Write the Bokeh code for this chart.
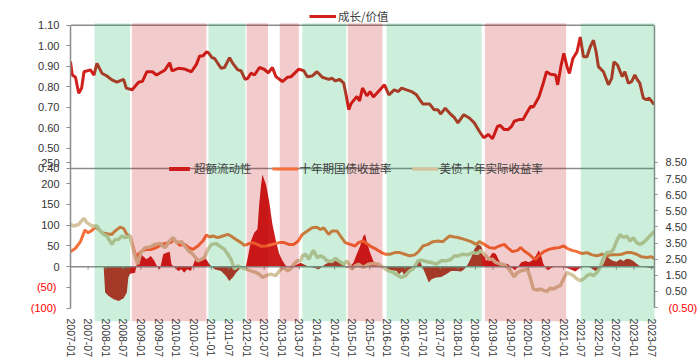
from bokeh.plotting import figure
from bokeh.models import (Range1d, LinearAxis, FixedTicker, NumeralTickFormatter, Span,
                          BoxAnnotation, Legend, LegendItem)
from bokeh.embed import file_html
from bokeh.resources import INLINE

# ---------------- data (x = months since 2007-01) ----------------
X_TICK_MONTHS = list(range(0, 199, 6))
X_TICK_LABELS = ["2007-01", "2007-07", "2008-01", "2008-07", "2009-01", "2009-07", "2010-01", "2010-07",
                 "2011-01", "2011-07", "2012-01", "2012-07", "2013-01", "2013-07", "2014-01", "2014-07",
                 "2015-01", "2015-07", "2016-01", "2016-07", "2017-01", "2017-07", "2018-01", "2018-07",
                 "2019-01", "2019-07", "2020-01", "2020-07", "2021-01", "2021-07", "2022-01", "2022-07",
                 "2023-01", "2023-07"]

# 成长/价值
GV_MONTH = [0, 0.6, 1.7, 2.8, 3.8, 4.6, 6.8, 8.0, 9.0, 10.7, 12.4, 14.1, 15.8, 18.1, 19.0, 21.0, 23.2, 24.5,
            26.0, 27.9, 29.3, 32.2, 33.8, 34.6, 36.7, 38.9, 41.2, 42.9, 44.0, 45.1, 46.3, 47.0, 48.2, 49.1,
            51.3, 52.5, 54.2, 55.3, 57.0, 58.1, 59.5, 60.4, 61.5, 62.7, 64.4, 66.1, 67.4, 68.8, 70.0, 72.2,
            73.9, 75.2, 77.8, 79.5, 80.7, 82.3, 84.0, 85.8, 88.0, 89.1, 90.3, 91.7, 93.1, 94.0, 94.8, 95.6,
            96.5, 97.6, 98.5, 99.5, 101.0, 102.1, 103.2, 104.9, 107.0, 108.5, 110.3, 111.7, 112.8, 114.5,
            116.2, 117.9, 119.0, 120.1, 122.4, 123.9, 125.2, 126.1, 127.7, 129.7, 130.9, 132.0, 134.0,
            135.9, 137.6, 139.3, 140.8, 142.4, 143.8, 145.5, 146.4, 147.8, 149.1, 150.3, 151.2, 152.9,
            154.2, 155.1, 156.8, 157.7, 159.6, 161.1, 162.2, 163.6, 165.3, 166.0, 167.2, 168.1, 169.2,
            170.0, 171.2, 172.6, 173.7, 174.8, 176.0, 177.1, 178.2, 179.1, 179.9, 181.6, 183.3, 184.4,
            185.2, 186.4, 188.0, 188.9, 190.1, 191.2, 192.3, 193.2, 194.0, 195.2, 196.3, 197.2, 198.9]
GV_VALUE = [0.922, 0.857, 0.846, 0.768, 0.793, 0.873, 0.882, 0.857, 0.914, 0.866, 0.852, 0.833, 0.822,
            0.836, 0.793, 0.785, 0.822, 0.826, 0.873, 0.873, 0.857, 0.882, 0.917, 0.877, 0.890, 0.886,
            0.873, 0.909, 0.950, 0.950, 0.970, 0.966, 0.942, 0.938, 0.890, 0.894, 0.942, 0.914, 0.882,
            0.878, 0.836, 0.841, 0.866, 0.857, 0.894, 0.884, 0.868, 0.894, 0.849, 0.825, 0.846, 0.849,
            0.886, 0.878, 0.849, 0.852, 0.873, 0.846, 0.836, 0.841, 0.828, 0.836, 0.817, 0.752, 0.688,
            0.717, 0.733, 0.752, 0.730, 0.793, 0.755, 0.776, 0.749, 0.776, 0.809, 0.760, 0.784, 0.776,
            0.793, 0.784, 0.776, 0.760, 0.736, 0.715, 0.715, 0.687, 0.687, 0.666, 0.695, 0.663, 0.647,
            0.623, 0.663, 0.647, 0.623, 0.582, 0.550, 0.566, 0.545, 0.606, 0.611, 0.590, 0.590, 0.606,
            0.631, 0.639, 0.639, 0.663, 0.704, 0.700, 0.749, 0.817, 0.873, 0.861, 0.857, 0.809, 0.906,
            0.963, 0.898, 0.865, 0.938, 0.971, 1.043, 0.946, 0.946, 0.995, 1.027, 0.971, 0.898, 0.873,
            0.809, 0.841, 0.922, 0.906, 0.849, 0.873, 0.817, 0.825, 0.857, 0.833, 0.817, 0.744, 0.736,
            0.744, 0.712]

# 超额流动性 (left axis)
EXCESS_MONTH = [0, 11.3, 11.8, 13.0, 14.7, 16.4, 18.1, 19.2, 19.7, 20.3, 22.0, 22.6, 24.0, 25.9, 27.4, 28.6,
                29.7, 30.5, 31.6, 32.7, 33.8, 34.4, 35.5, 36.7, 37.8, 38.7, 39.8, 41.0, 42.1, 42.9, 44.0,
                45.1, 46.3, 47.0, 47.9, 49.1, 51.3, 53.0, 54.1, 55.3, 56.4, 57.5, 58.7, 59.8, 60.4, 61.5,
                62.6, 63.7, 64.3, 64.9, 65.4, 66.6, 67.7, 68.8, 70.0, 71.1, 72.2, 73.3, 74.4, 75.6, 78.4,
                80.1, 81.8, 83.5, 84.6, 86.8, 88.6, 90.3, 92.0, 93.1, 94.2, 95.3, 96.4, 97.6, 98.7, 99.8,
                100.4, 100.9, 102.1, 103.2, 104.3, 105.4, 106.2, 107.7, 109.4, 111.1, 111.9, 113.0, 114.2,
                115.6, 117.3, 118.8, 119.8, 121.2, 122.1, 123.0, 124.6, 126.3, 128.0, 129.7, 131.4, 133.1,
                134.2, 135.4, 136.5, 137.6, 138.8, 139.9, 140.8, 141.6, 142.7, 143.8, 144.9, 146.1, 147.2,
                148.9, 150.3, 151.4, 152.5, 153.6, 155.1, 156.2, 157.4, 158.5, 159.6, 160.4, 161.1, 161.9,
                162.7, 164.1, 166.1, 168.1, 170.3, 172.0, 173.5, 175.4, 177.1, 178.8, 180.3, 181.6, 182.7,
                183.9, 185.0, 186.1, 187.3, 188.4, 189.5, 190.7, 191.8, 192.9, 194.0, 195.2, 196.8, 198.0,
                199.1]
EXCESS_VALUE = [0, 0, -62.7, -70.8, -78.8, -82.8, -76.4, -62.7, -26.5, -16.9, -14.5, 5.5, 29.6, 17.5, 25.6,
                13.5, -2.4, -6.4, 29.6, 33.7, 36.1, 5.6, -2.4, -10.4, -6.4, -14.5, -6.4, -10.4, 9.6, 25.6,
                13.5, 21.6, 17.5, 9.6, 1.6, -6.4, -10.4, -22.5, -34.5, -26.5, -14.5, -6.4, -4.0, 1.6, 21.6,
                61.8, 81.9, 89.9, 150.0, 195.0, 222.0, 198.0, 158.0, 102.0, 62.0, 31.0, 15.0, 3.0, 0, 0,
                9.6, 3.2, -0.8, -4.0, -6.4, 5.6, 12.0, 13.5, 8.8, 5.6, -4.0, 1.6, 9.6, 31.3, 49.7, 73.8,
                77.8, 61.7, 33.6, 13.5, 5.6, 3.2, -2.4, -4.8, -8.8, -10.4, -18.5, -12.0, -26.5, -14.5, 1.6,
                17.6, 1.6, -22.5, -38.5, -30.5, -26.5, -24.9, -18.5, -10.4, -10.4, -12.0, -6.4, 5.6, 21.6,
                41.8, 53.8, 49.8, 33.7, 13.5, 21.6, 33.7, 31.3, 13.5, 4.0, 7.2, -2.4, -8.8, -0.8, 10.4,
                13.5, 10.4, 15.3, 25.7, 39.3, 25.7, 7.2, -2.4, -8.8, -2.4, 0.8, -0.8, -6.4, -12.0, -4.0,
                1.6, -2.4, -10.4, -4.0, 5.6, 25.7, 17.6, 13.5, 12.0, 17.6, 13.5, 19.2, 17.6, 13.5, 7.2,
                1.6, -0.8, -2.4, -4.0, -2.4]

# 十年期国债收益率 (right axis)
CGB_MONTH = [0, 1.7, 3.4, 4.9, 6.0, 7.3, 8.5, 9.6, 10.7, 12.4, 14.1, 15.2, 16.9, 18.1, 19.2, 20.3, 21.4,
             22.6, 23.1, 24.3, 26.0, 27.6, 29.3, 31.0, 32.7, 34.2, 35.0, 36.1, 37.2, 38.9, 40.3, 41.7, 43.4,
             45.1, 46.3, 47.4, 48.5, 50.2, 51.9, 53.6, 54.7, 56.4, 58.1, 59.2, 60.9, 62.0, 63.7, 64.9, 66.6,
             68.8, 71.1, 72.8, 74.4, 76.1, 77.6, 79.0, 80.7, 82.3, 84.0, 85.2, 86.3, 88.0, 89.1, 90.8, 92.0,
             93.6, 95.3, 97.0, 98.1, 99.8, 100.9, 102.6, 104.3, 106.0, 107.2, 108.8, 110.5, 112.2, 113.9,
             115.6, 117.3, 118.6, 120.1, 121.8, 123.5, 125.2, 126.9, 128.0, 129.2, 130.8, 132.0, 134.2,
             136.5, 138.2, 139.3, 141.0, 142.7, 144.4, 146.1, 147.8, 148.9, 150.6, 152.3, 153.4, 154.6,
             156.2, 157.7, 158.5, 159.6, 161.3, 163.0, 164.7, 166.4, 168.1, 169.2, 170.9, 172.6, 174.3,
             176.0, 177.7, 179.4, 181.1, 182.7, 184.4, 186.1, 187.8, 189.5, 191.2, 192.9, 194.6, 196.3,
             198.0, 199.1]
CGB_VALUE = [2.97, 3.18, 3.59, 4.31, 4.14, 4.29, 4.49, 4.35, 4.14, 4.08, 4.04, 4.25, 4.49, 4.41, 4.04, 3.94,
             3.22, 2.50, 2.81, 3.01, 3.11, 3.11, 3.22, 3.42, 3.49, 3.53, 3.73, 3.59, 3.36, 3.42, 3.22, 3.11,
             3.32, 3.63, 4.00, 3.88, 3.94, 3.84, 3.94, 4.04, 3.94, 3.73, 3.53, 3.36, 3.47, 3.53, 3.42, 3.30,
             3.32, 3.42, 3.53, 3.53, 3.42, 3.42, 3.63, 4.04, 4.25, 4.45, 4.49, 4.35, 4.45, 4.04, 4.25, 4.25,
             3.94, 3.53, 3.42, 3.32, 3.53, 3.63, 3.47, 3.26, 3.11, 2.91, 2.81, 2.81, 2.91, 2.91, 2.81, 2.71,
             2.77, 2.97, 3.32, 3.42, 3.59, 3.63, 3.59, 3.77, 3.94, 3.88, 3.85, 3.73, 3.59, 3.42, 3.59, 3.42,
             3.22, 3.18, 3.32, 3.42, 3.22, 2.97, 3.05, 3.22, 3.01, 2.81, 2.57, 2.50, 2.71, 2.97, 3.11, 3.18,
             3.22, 3.32, 3.18, 3.05, 2.97, 2.85, 2.91, 2.77, 2.71, 2.81, 2.71, 2.77, 2.77, 2.81, 2.91, 2.91,
             2.81, 2.65, 2.61, 2.65, 2.54]

# 美债十年实际收益率 (right axis)
TIPS_MONTH = [0, 1.1, 2.8, 4.5, 5.6, 7.3, 9.0, 10.2, 11.3, 12.4, 14.1, 15.2, 16.4, 17.5, 18.6, 20.3, 21.2,
              22.0, 22.9, 24.0, 25.4, 27.1, 28.8, 30.5, 32.2, 33.8, 35.0, 36.1, 37.8, 38.9, 40.3, 41.7, 43.4,
              44.6, 45.7, 46.8, 48.0, 49.7, 50.8, 52.5, 53.6, 54.7, 55.9, 57.0, 58.1, 59.8, 61.5, 63.2, 64.6,
              65.4, 66.6, 68.2, 69.9, 71.7, 72.8, 73.9, 75.0, 76.1, 77.3, 78.4, 79.0, 80.1, 81.2, 82.3, 82.9,
              84.0, 85.2, 86.3, 87.4, 89.1, 90.3, 91.4, 93.1, 94.2, 95.9, 97.0, 98.1, 99.8, 101.5, 103.2,
              104.9, 106.6, 108.3, 110.0, 111.7, 112.8, 113.9, 115.6, 116.7, 118.4, 119.6, 121.2, 122.9,
              124.6, 126.3, 128.0, 129.7, 130.8, 132.0, 133.7, 135.4, 137.1, 138.7, 139.9, 141.0, 142.7,
              143.8, 144.9, 146.6, 147.7, 148.9, 150.0, 151.2, 152.3, 153.4, 154.5, 155.7, 156.8, 157.7,
              159.1, 160.2, 161.3, 162.4, 163.5, 164.7, 165.8, 166.9, 168.0, 169.2, 170.3, 171.4, 172.6,
              173.7, 174.8, 176.0, 177.1, 178.2, 179.4, 180.5, 181.6, 182.7, 183.9, 185.0, 186.1, 187.3,
              188.4, 189.5, 190.7, 191.8, 192.9, 194.0, 195.2, 196.3, 197.4, 199.1]
TIPS_VALUE = [4.66, 4.56, 4.66, 5.03, 4.77, 4.56, 4.56, 4.25, 4.04, 3.94, 3.42, 3.73, 3.73, 3.94, 3.84, 3.94,
              3.22, 2.71, 2.19, 2.91, 3.22, 3.26, 3.42, 3.47, 3.22, 3.63, 3.84, 3.53, 3.59, 3.32, 3.01, 2.81,
              2.40, 2.50, 2.60, 3.11, 3.42, 3.47, 3.32, 3.11, 2.81, 2.50, 1.89, 2.09, 1.99, 1.89, 1.78, 1.68,
              1.53, 1.37, 1.48, 1.58, 1.48, 1.89, 1.99, 1.78, 1.89, 2.19, 2.40, 2.40, 2.71, 2.81, 2.50, 2.91,
              3.05, 2.60, 2.71, 2.60, 2.40, 2.36, 2.56, 2.40, 2.19, 2.40, 1.89, 2.09, 2.19, 1.99, 2.19, 2.23,
              2.19, 1.99, 1.78, 1.68, 1.48, 1.37, 1.48, 1.78, 1.89, 2.40, 2.44, 2.36, 2.30, 2.19, 2.40, 2.40,
              2.50, 2.71, 2.70, 2.81, 2.77, 2.91, 2.85, 3.05, 2.81, 2.50, 2.50, 2.30, 2.19, 2.19, 1.99, 1.74,
              1.41, 1.68, 1.78, 1.82, 1.89, 1.27, 0.65, 0.59, 0.65, 0.55, 0.51, 0.71, 0.65, 0.79, 0.86, 1.27,
              1.68, 1.58, 1.48, 1.27, 1.17, 1.27, 1.48, 1.58, 1.48, 1.68, 1.99, 2.60, 2.91, 2.91, 3.11, 3.63,
              4.04, 3.84, 3.94, 3.63, 3.84, 3.53, 3.42, 3.53, 3.73, 3.94, 4.25]

# regime shading (months since 2007-01)
SHADE_START = [8.2, 20.9, 47.0, 60.0, 71.3, 79.0, 94.5, 107.7, 141.2, 173.9]
SHADE_END = [20.3, 46.3, 59.6, 67.3, 77.8, 94.0, 106.3, 140.1, 168.9, 200.0]
SHADE_KIND = ["g", "r", "g", "r", "r", "g", "r", "g", "r", "g"]

TOP_TICKS = [0.4, 0.5, 0.6, 0.7, 0.8, 0.9, 1.0, 1.1]
LEFT_TICKS = [-100, -50, 0, 50, 100, 150, 200, 250]
RIGHT_TICKS = [-0.5, 0.5, 1.5, 2.5, 3.5, 4.5, 5.5, 6.5, 7.5, 8.5]

# ---------------- layout / styles ----------------
W, H = 700, 360
FRAME_TOP, FRAME_BOTTOM = 0, 323          # frame rows within the canvas
GV_COLOR = "#D0211C"
EXCESS_COLOR = "#CC1C1C"
CGB_COLOR = "#F5703A"
TIPS_COLOR = "#D4C49E"
GREEN = "#00B050"
RED = "#C00000"
AXIS_COLOR = "#8C8C8C"
TEXT_COLOR = "#333333"
NEG_COLOR = "#FF0000"
NUM_FONT = "Liberation Sans"
CJK_FONT = "Noto Sans CJK SC"


def frame_range(v_a, y_a, v_b, y_b):
    """Range whose value v_a sits at canvas row y_a and v_b at row y_b."""
    per_px = (v_a - v_b) / (y_b - y_a)
    return Range1d(v_b - (FRAME_BOTTOM - y_b) * per_px, v_a + (y_a - FRAME_TOP) * per_px)


main_rng = frame_range(250, 163.5, -100, 309.5)
top_rng = frame_range(1.10, 25, 0.40, 169)
right_rng = frame_range(8.5, 163, -0.5, 309)


def top_to_main(v):
    frac = (v - top_rng.start) / (top_rng.end - top_rng.start)
    return round(main_rng.start + frac * (main_rng.end - main_rng.start), 6)


def main_to_right(v):
    frac = (v - main_rng.start) / (main_rng.end - main_rng.start)
    return right_rng.start + frac * (right_rng.end - right_rng.start)


def style_numbers(ax, color):
    ax.major_label_text_font = NUM_FONT
    ax.major_label_text_font_size = "11px"
    ax.major_label_text_color = color
    ax.minor_tick_line_color = None
    ax.major_tick_in = 0


p = figure(width=W, height=H, output_backend="svg", toolbar_location=None,
           x_range=Range1d(0, 199.0), y_range=main_rng,
           min_border_left=70, min_border_right=42, min_border_top=0, min_border_bottom=H - FRAME_BOTTOM)
p.extra_y_ranges = {"top": top_rng, "right": right_rng}
p.grid.visible = False
p.outline_line_color = None
p.background_fill_color = "white"
p.border_fill_color = "white"

# ---- glyphs ----
r_gv = p.line(GV_MONTH, GV_VALUE, y_range_name="top", line_color=GV_COLOR, line_width=3)
r_ex = p.varea(x=EXCESS_MONTH, y1=0, y2=EXCESS_VALUE, fill_color=EXCESS_COLOR)
r_cgb = p.line(CGB_MONTH, CGB_VALUE, y_range_name="right", line_color=CGB_COLOR, line_width=3)
r_tips = p.line(TIPS_MONTH, TIPS_VALUE, y_range_name="right", line_color=TIPS_COLOR, line_width=3.5)

# zero line with its small ticks
p.add_layout(Span(location=0, dimension="width", line_color=AXIS_COLOR, line_width=1.5))
tick_len = 3 * (main_rng.end - main_rng.start) / (FRAME_BOTTOM - FRAME_TOP)
p.segment(x0=X_TICK_MONTHS, y0=[0] * len(X_TICK_MONTHS), x1=X_TICK_MONTHS,
          y1=[-tick_len] * len(X_TICK_MONTHS), line_color=AXIS_COLOR, line_width=1)

# panel border lines
p.add_layout(Span(location=1.10, dimension="width", y_range_name="top", line_color=AXIS_COLOR, line_width=1.5))
p.add_layout(Span(location=0.40, dimension="width", y_range_name="top", line_color=AXIS_COLOR, line_width=1.5))

# ---- left: inner axis = line, ticks, black labels; outer axis = red labels for negatives ----
ya = p.yaxis[0]
left_ticks = [top_to_main(t) for t in TOP_TICKS] + LEFT_TICKS
overrides = {top_to_main(t): f"{t:.2f}" for t in TOP_TICKS}
for t in LEFT_TICKS:
    overrides[t] = str(t) if t >= 0 else ""
ya.ticker = FixedTicker(ticks=left_ticks)
ya.major_label_overrides = overrides
ya.bounds = (-100, top_to_main(1.10))
ya.axis_line_color = AXIS_COLOR
ya.axis_line_width = 1.5
ya.major_tick_line_color = AXIS_COLOR
ya.major_tick_out = 4
ya.major_label_standoff = 7
style_numbers(ya, TEXT_COLOR)
INNER_LEFT = 4 + 7 + 21   # tick + standoff + widest black label

neg_left = [t for t in LEFT_TICKS if t < 0]
ya_neg = LinearAxis(ticker=FixedTicker(ticks=neg_left))
ya_neg.major_label_overrides = {t: f"({-t})" for t in neg_left}
ya_neg.axis_line_color = None
ya_neg.major_tick_line_color = None
ya_neg.major_tick_out = 0
ya_neg.major_label_standoff = -(INNER_LEFT - 11)
style_numbers(ya_neg, NEG_COLOR)
p.add_layout(ya_neg, "left")

# ---- right: inner axis = line, ticks, black labels; outer axis = red label ----
ra = LinearAxis(y_range_name="right", ticker=FixedTicker(ticks=RIGHT_TICKS),
                formatter=NumeralTickFormatter(format="0.00"))
ra.major_label_overrides = {t: "" for t in RIGHT_TICKS if t < 0}
ra.bounds = (-0.5, main_to_right(top_to_main(1.10)))
ra.axis_line_color = AXIS_COLOR
ra.axis_line_width = 1.5
ra.major_tick_line_color = AXIS_COLOR
ra.major_tick_out = 3
ra.major_label_standoff = 8
style_numbers(ra, TEXT_COLOR)
p.add_layout(ra, "right")
INNER_RIGHT = 3 + 8 + 21

neg_right = [t for t in RIGHT_TICKS if t < 0]
ra_neg = LinearAxis(y_range_name="right", ticker=FixedTicker(ticks=neg_right))
ra_neg.major_label_overrides = {t: f"({-t:.2f})" for t in neg_right}
ra_neg.axis_line_color = None
ra_neg.major_tick_line_color = None
ra_neg.major_tick_out = 0
ra_neg.major_label_standoff = -(INNER_RIGHT - 11)
style_numbers(ra_neg, NEG_COLOR)
p.add_layout(ra_neg, "right")

# ---- x axis (labels at the bottom) ----
xa = p.xaxis[0]
xa.ticker = FixedTicker(ticks=X_TICK_MONTHS)
xa.major_label_overrides = dict(zip(X_TICK_MONTHS, X_TICK_LABELS))
xa.axis_line_color = None
xa.major_tick_line_color = None
xa.minor_tick_line_color = None
xa.major_tick_in = 0
xa.major_tick_out = 0
xa.major_label_standoff = -3
xa.major_label_orientation = "vertical"
xa.major_label_text_font = NUM_FONT
xa.major_label_text_font_size = "10.5px"
xa.major_label_text_color = TEXT_COLOR


# ---- legends ----
def make_legend(items, loc, glyph_w, glyph_h):
    lg = Legend(items=items, location=loc, orientation="horizontal", padding=0, margin=0,
                spacing=20, glyph_width=glyph_w, glyph_height=glyph_h, label_height=12,
                label_standoff=2, label_text_font=CJK_FONT, label_text_font_size="11.5px",
                label_text_color="#404040", border_line_alpha=0, background_fill_alpha=0)
    lg.click_policy = "none"
    return lg


p.add_layout(make_legend([LegendItem(label="成长/价值", renderers=[r_gv])], (239, 297), 27, 12))
p.add_layout(make_legend([LegendItem(label="超额流动性", renderers=[r_ex]),
                          LegendItem(label="十年期国债收益率", renderers=[r_cgb]),
                          LegendItem(label="美债十年实际收益率", renderers=[r_tips])],
                         (96, 145), 26, 5))

# ---- regime shading drawn over everything inside the frame ----
for s, e, k in zip(SHADE_START, SHADE_END, SHADE_KIND):
    p.add_layout(BoxAnnotation(left=s, right=e, top=1.11, bottom=top_rng.start, y_range_name="top",
                               fill_color=GREEN if k == "g" else RED, fill_alpha=0.2,
                               line_alpha=0, level="overlay"))

open("out.html", "w").write(file_html(p, INLINE))
